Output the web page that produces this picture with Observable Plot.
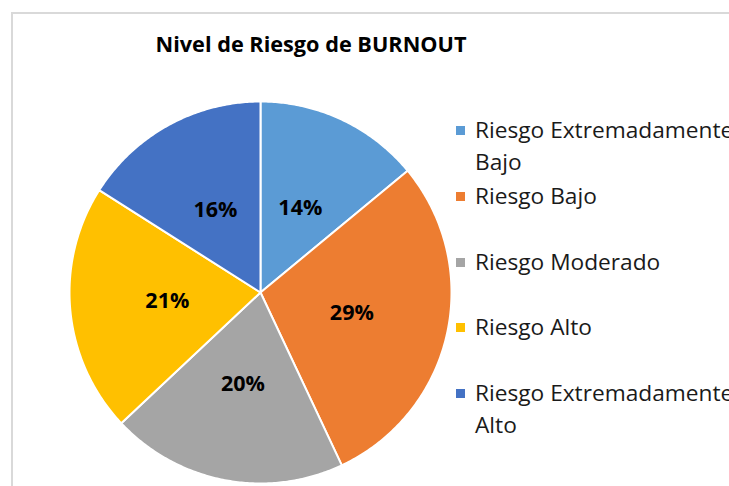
<!DOCTYPE html>
<html>
<head>
<meta charset="utf-8">
<script src="https://cdn.jsdelivr.net/npm/d3@7"></script>
<script src="https://cdn.jsdelivr.net/npm/@observablehq/plot@0.6"></script>
<style>
  html, body { margin: 0; padding: 0; background: #fff; }
  body { width: 729px; height: 486px; overflow: hidden; position: relative; font-family: "Open Sans", sans-serif; }
  #chart { position: absolute; left: 0; top: 0; }
  #border { position: absolute; left: 11px; top: 12px; right: -5px; bottom: -5px; border-left: 2px solid #d9d9d9; border-top: 2px solid #d9d9d9; }
  #title { position: absolute; left: 0; width: 622px; top: 29px; text-align: center; font-weight: 700; font-size: 21.7px; color: #000; }
  #legend { position: absolute; left: 456px; top: 114px; }
  .item { position: absolute; left: 0; display: flex; align-items: flex-start; }
  .sw { width: 9px; height: 9px; margin-top: 12px; margin-right: 10px; flex: none; }
  .lab { width: 275px; font-size: 22.7px; line-height: 32px; color: #1a1a1a; }
</style>
</head>
<body>
<div id="border"></div>
<div id="chart"></div>
<div id="title"></div>
<div id="legend"></div>
<script>
// Burnout risk levels and their share of respondents (%)
const categories = [
  "Riesgo Extremadamente Bajo",
  "Riesgo Bajo",
  "Riesgo Moderado",
  "Riesgo Alto",
  "Riesgo Extremadamente Alto"
];
const values = [14, 29, 20, 21, 16];
const colors = ["#5B9BD5", "#ED7D31", "#A5A5A5", "#FFC000", "#4472C4"];
const title = "Nivel de Riesgo de BURNOUT";

const rows = categories.map((c, i) => ({category: c, value: values[i]}));

// Slice angles, clockwise from 12 o'clock
const arcs = d3.pie().value(d => d.value).sort(null)(rows);

// Each slice as a closed polygon in unit-circle coordinates
const slicePts = [];
for (const a of arcs) {
  const n = Math.max(2, Math.ceil((a.endAngle - a.startAngle) / 0.01));
  slicePts.push({category: a.data.category, x: 0, y: 0});
  for (let k = 0; k <= n; k++) {
    const t = a.startAngle + (a.endAngle - a.startAngle) * k / n;
    slicePts.push({category: a.data.category, x: Math.sin(t), y: Math.cos(t)});
  }
  slicePts.push({category: a.data.category, x: 0, y: 0});
}

// Percentage labels placed midway along each slice's radius
const labelR = 0.49;
const labels = arcs.map(a => {
  const m = (a.startAngle + a.endAngle) / 2;
  return {category: a.data.category, x: labelR * Math.sin(m), y: labelR * Math.cos(m), text: a.data.value + "%"};
});

const R = 191, cx = 260, cy = 292;
const chart = Plot.plot({
  width: 729,
  height: 486,
  margin: 0,
  axis: null,
  x: {domain: [-1, 1], range: [cx - R, cx + R]},
  y: {domain: [-1, 1], range: [cy + R, cy - R]},
  color: {domain: categories, range: colors},
  marks: [
    Plot.line(slicePts, {x: "x", y: "y", z: "category", fill: "category", stroke: "white", strokeWidth: 2, strokeLinejoin: "round"}),
    Plot.text(labels, {x: "x", y: "y", text: "text", fill: "black", fontSize: 21.5, fontWeight: 700, fontFamily: "Open Sans"})
  ]
});
document.getElementById("chart").append(chart);

document.getElementById("title").textContent = title;

// Legend: one swatch per category, wrapping long names
const legend = document.getElementById("legend");
categories.forEach((c, i) => {
  const item = document.createElement("div");
  item.className = "item";
  item.style.top = (i * 65.8) + "px";
  const sw = document.createElement("div");
  sw.className = "sw";
  sw.style.background = colors[i];
  const lab = document.createElement("div");
  lab.className = "lab";
  lab.textContent = c;
  item.append(sw, lab);
  legend.append(item);
});
</script>
</body>
</html>
